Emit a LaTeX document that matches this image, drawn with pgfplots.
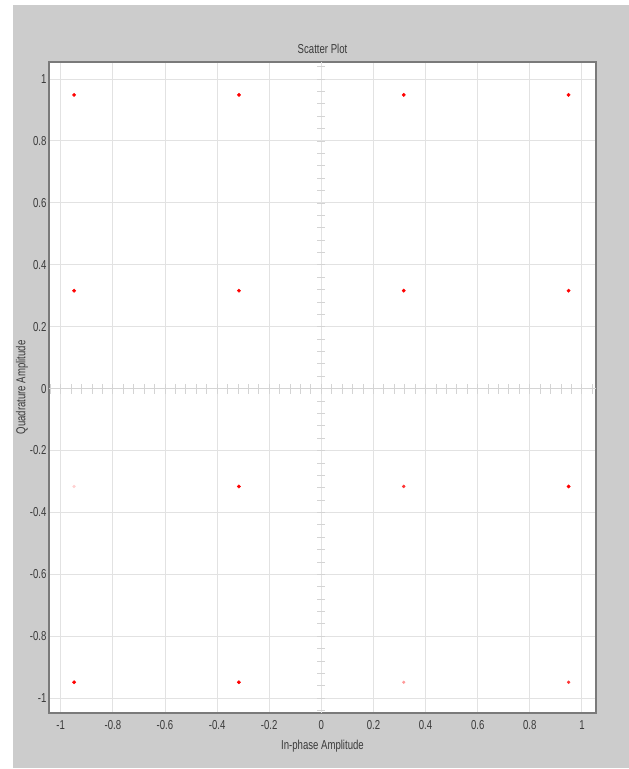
\documentclass[border=0pt]{standalone}
\usepackage{fontspec}
\setmainfont{Liberation Sans}[FakeStretch=0.74]
\usepackage{pgfplots}
\pgfplotsset{compat=1.18}
\definecolor{bggray}{HTML}{CCCCCC}
\definecolor{gridc}{HTML}{E2E2E2}
\definecolor{tickc}{HTML}{D4D4D4}
\definecolor{framec}{HTML}{7A7A7A}
\definecolor{txt}{HTML}{3A3A3A}
\colorlet{redA}{red}
\colorlet{redB}{red!80!white}
\colorlet{redC}{red!40!white}
\colorlet{redD}{red!18!white}
\begin{document}
\begin{tikzpicture}[x=1bp,y=1bp]
\useasboundingbox (0,0) rectangle (629,769);
\fill[white] (0,0) rectangle (629,769);
\fill[bggray] (13,1) rectangle (629,764);
\begin{axis}[
  at={(49bp,56bp)}, anchor=south west,
  scale only axis, width=547bp, height=651bp,
  xmin=-1.045, xmax=1.054, ymin=-1.048, ymax=1.055,
  xtick={-1,-0.8,...,1.01}, ytick={-1,-0.8,...,1.01},
  xticklabels={-1,-0.8,-0.6,-0.4,-0.2,0,0.2,0.4,0.6,0.8,1},
  yticklabels={-1,-0.8,-0.6,-0.4,-0.2,0,0.2,0.4,0.6,0.8,1},
  major tick length=0pt,
  grid=major,
  major grid style={draw=gridc, line width=0.9bp},
  axis line style={draw=framec, line width=1.6bp},
  axis background/.style={fill=white},
  tick label style={font=\fontsize{13}{14}\selectfont, text=txt},
  /pgf/number format/assume math mode=true,
  xticklabel style={yshift=-4bp},
  yticklabel style={xshift=1bp},
  title={Scatter Plot},
  title style={font=\fontsize{13}{14}\selectfont, text=txt, yshift=-1bp},
  xlabel={In-phase Amplitude},
  xlabel style={font=\fontsize{13}{14}\selectfont, text=txt, yshift=-4bp},
  ylabel={Quadrature Amplitude},
  ylabel style={font=\fontsize{13}{14}\selectfont, text=txt, yshift=-5bp},
  clip=true,
]
% center axes with small ticks
\draw[draw=tickc, line width=1bp] (axis cs:-1.045,0) -- (axis cs:1.054,0);
\draw[draw=gridc, line width=0.9bp] (axis cs:0,-1.048) -- (axis cs:0,1.055);
\pgfplotsinvokeforeach{-1.04,-1.0,...,1.05}{
  \draw[draw=tickc, line width=0.8bp] ([yshift=-5bp]axis cs:#1,0) -- ([yshift=5bp]axis cs:#1,0);
  \draw[draw=tickc, line width=0.8bp] ([xshift=-4bp]axis cs:0,#1) -- ([xshift=4bp]axis cs:0,#1);
}
\addplot[only marks, mark=*, mark size=1.7bp, color=redA, mark options={draw=none, fill=redA}] coordinates {
 (-0.9487,0.9487) (-0.3162,0.9487) (0.3162,0.9487) (0.9487,0.9487)
 (-0.9487,0.3162) (-0.3162,0.3162) (0.3162,0.3162) (0.9487,0.3162)
 (-0.3162,-0.3162) (0.9487,-0.3162)
 (-0.9487,-0.9487) (-0.3162,-0.9487)
};
\addplot[only marks, mark=*, mark size=1.5bp, color=redB, mark options={draw=none, fill=redB}] coordinates {
 (0.3162,-0.3162) (0.9487,-0.9487)
};
\addplot[only marks, mark=*, mark size=1.4bp, color=redC, mark options={draw=none, fill=redC}] coordinates {
 (0.3162,-0.9487)
};
\addplot[only marks, mark=*, mark size=1.4bp, color=redD, mark options={draw=none, fill=redD}] coordinates {
 (-0.9487,-0.3162)
};
\end{axis}
\end{tikzpicture}
\end{document}
